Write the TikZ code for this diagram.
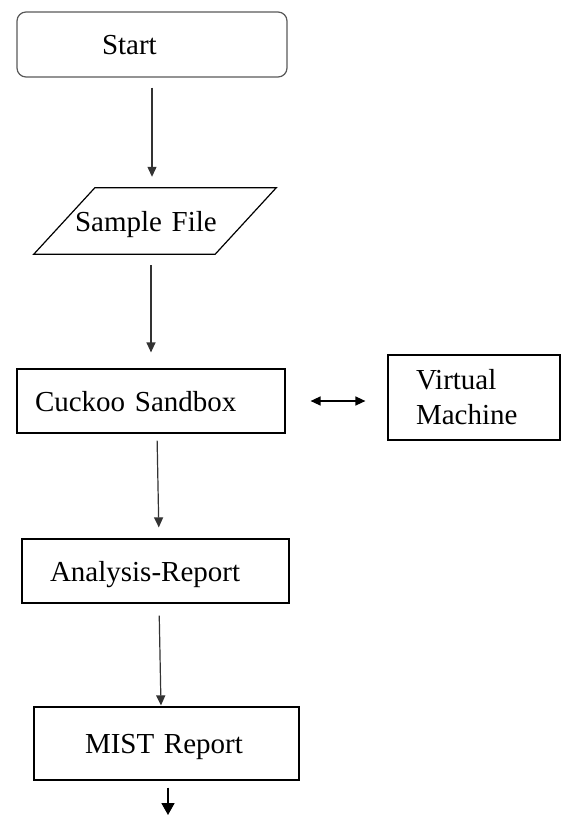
\documentclass[tikz,border=0pt]{standalone}
\usepackage{fontspec}
\setmainfont{Liberation Serif}
\usepackage{tikz}
\usetikzlibrary{calc, arrows.meta, positioning}

\begin{document}
\begin{tikzpicture}[
        x=1pt, y=-1pt,
        every node/.style={font=\fontsize{29}{35}\selectfont},
        box/.style={draw, rectangle, line width=1.2pt, align=left,
                    inner ysep=0pt},
        oneline/.style={text depth=0pt},
        flow/.style={-{Triangle[length=10pt,width=9pt]}, line width=1.2pt,
                     draw=black!80}
]
\useasboundingbox (0,0) rectangle (563,816);

%--- box centres ---------------------------------------------
\coordinate (S) at (152,44.5);       % start
\coordinate (P) at (155,221);        % sample file
\coordinate (C) at (151,401);        % cuckoo sandbox
\coordinate (V) at (474,397.5);      % virtual machine
\coordinate (A) at (155.5,571);      % analysis report
\coordinate (M) at (166.5,743.5);    % mist report
\coordinate (out) at (168,815);      % free end of last arrow

%--- boxes ---------------------------------------------------
\node[box, oneline, rounded corners=9pt, draw=black!65, minimum width=270pt,
      minimum height=65pt, text width=100pt, inner xsep=85pt]
      (start) at (S) {Start};
\node[oneline, align=left, inner ysep=0pt, minimum width=242pt,
      minimum height=66pt, text width=160pt, inner xsep=41pt]
      (sample) at (P) {Sample File};
\draw[line width=1.2pt] ([xshift=61pt]sample.north west) -- (sample.north east)
      -- ([xshift=-61pt]sample.south east) -- (sample.south west) -- cycle;
\node[box, oneline, minimum width=268pt, minimum height=64pt,
      text width=232pt, inner xsep=18pt] (cuckoo) at (C) {Cuckoo Sandbox};
\node[box, minimum width=172pt, minimum height=85pt,
      text width=116pt, inner xsep=28pt] (vm) at (V) {Virtual\\Machine};
\node[box, oneline, minimum width=267pt, minimum height=64pt,
      text width=211pt, inner xsep=28pt] (analysis) at (A) {Analysis-Report};
\node[box, oneline, minimum width=265pt, minimum height=73pt,
      text width=163pt, inner xsep=51pt] (mist) at (M) {MIST Report};

%--- connectors ----------------------------------------------
\draw[flow, shorten <=10pt, shorten >=11pt] (start.south) -- (start.south |- sample.north);
\draw[flow, shorten <=11pt, shorten >=16pt] (cuckoo.north |- sample.south) -- (cuckoo.north);
\draw[flow, shorten <=7pt, shorten >=11pt] ([xshift=6pt]cuckoo.south) -- ([xshift=3.5pt]analysis.north);
\draw[flow, shorten <=12pt, shorten >=1pt] ([xshift=3.5pt]analysis.south) -- ([xshift=-5.5pt]mist.north);
\draw[{Triangle[length=10pt,width=9pt]}-{Triangle[length=10pt,width=9pt]},
      line width=1.4pt, shorten <=25pt, shorten >=22pt]
      (cuckoo.east) -- (cuckoo.east -| vm.west);
\draw[-{Triangle[length=12pt,width=13pt]}, line width=1.8pt, shorten <=7pt]
      ([xshift=1.5pt]mist.south) -- (out);

\end{tikzpicture}
\end{document}
